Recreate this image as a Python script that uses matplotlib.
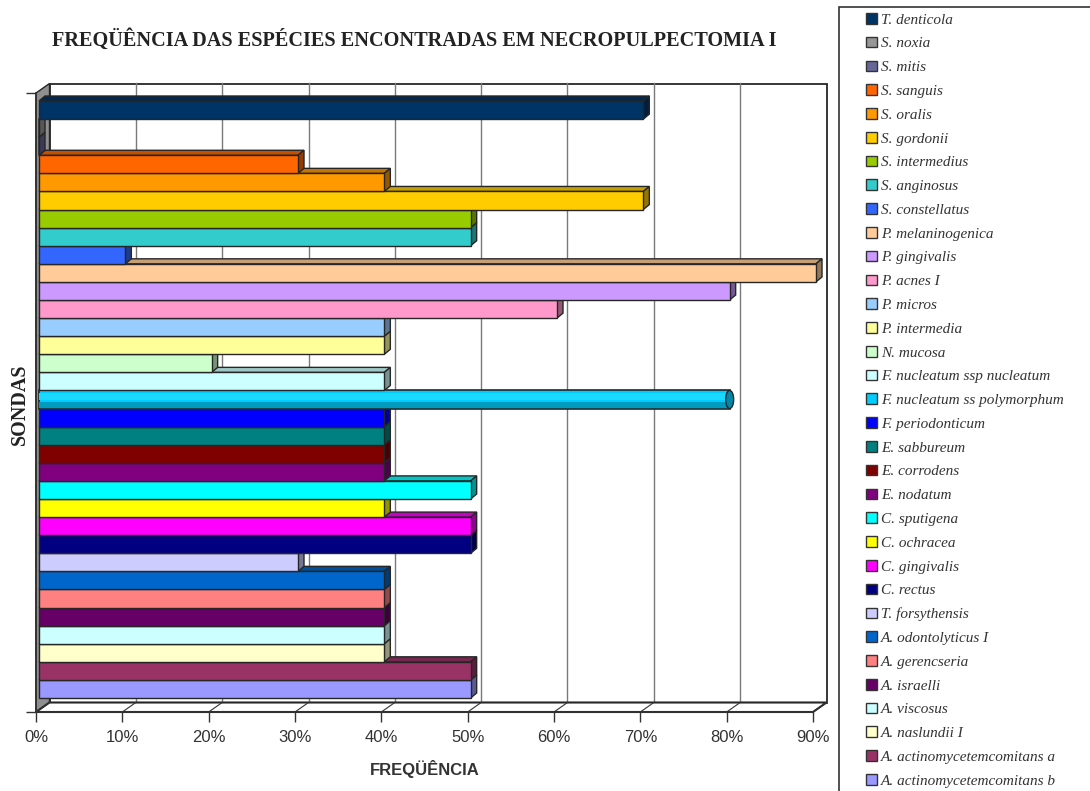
import matplotlib
matplotlib.use('Agg')
import matplotlib.pyplot as plt
from matplotlib.patches import Polygon, Rectangle, Patch, Ellipse
from matplotlib.font_manager import FontProperties
import numpy as np

# ---------------- data (top to bottom, as in the legend) ----------------
species = [
    "T. denticola", "S. noxia", "S. mitis", "S. sanguis", "S. oralis",
    "S. gordonii", "S. intermedius", "S. anginosus", "S. constellatus",
    "P. melaninogenica", "P. gingivalis", "P. acnes I", "P. micros",
    "P. intermedia", "N. mucosa", "F. nucleatum ssp nucleatum",
    "F. nucleatum ss polymorphum", "F. periodonticum", "E. sabbureum",
    "E. corrodens", "E. nodatum", "C. sputigena", "C. ochracea",
    "C. gingivalis", "C. rectus", "T. forsythensis", "A. odontolyticus I",
    "A. gerencseria", "A. israelli", "A. viscosus", "A. naslundii I",
    "A. actinomycetemcomitans a", "A. actinomycetemcomitans b",
]
values = [70, 0, 0, 30, 40, 70, 50, 50, 10, 90, 80, 60, 40, 40, 20, 40,
          80, 40, 40, 40, 40, 50, 40, 50, 50, 30, 40, 40, 40, 40, 40, 50, 50]
colors = [
    "#003366", "#969696", "#666699", "#FF6600", "#FF9900", "#FFCC00",
    "#99CC00", "#33CCCC", "#3366FF", "#FFCC99", "#CC99FF", "#FF99CC",
    "#99CCFF", "#FFFF99", "#CCFFCC", "#CCFFFF", "#00CCFF", "#0000FF",
    "#008080", "#800000", "#800080", "#00FFFF", "#FFFF00", "#FF00FF",
    "#000080", "#CCCCFF", "#0066CC", "#FF8080", "#660066", "#CCFFFF",
    "#FFFFCC", "#993366", "#9999FF",
]
cylinder_species = "F. nucleatum ss polymorphum"
xticks = list(range(0, 100, 10))
xticklabels = [f"{t}%" for t in xticks]
title = "FREQÜÊNCIA DAS ESPÉCIES ENCONTRADAS EM NECROPULPECTOMIA I"
xlabel = "FREQÜÊNCIA"
ylabel = "SONDAS"

# ---------------- layout ----------------
W, H = 1090, 791
fig = plt.figure(figsize=(W / 100, H / 100), dpi=100)
L, R, T, B = 36, 813, 93, 712
ax = fig.add_axes([L / W, 1 - B / H, (R - L) / W, (B - T) / H])

n = len(species)
bar_bot_px, bar_top_px = 698, 101
unit = (bar_bot_px - bar_top_px) / n
bar_off_px = (3.0, 2.3)
ylim0 = -0.5 - (B - (bar_bot_px + bar_off_px[1])) / unit
ylim1 = (n - 0.5) + ((bar_top_px + bar_off_px[1]) - T) / unit
xmax = 90
ax.set_xlim(0, xmax)
ax.set_ylim(ylim0, ylim1)

sx = xmax / (R - L)
sy = (ylim1 - ylim0) / (B - T)
bdx, bdy = 13.5 * sx, 9.5 * sy          # back-plane offset
ox, oy = bar_off_px[0] * sx, bar_off_px[1] * sy
ddx, ddy = 6.0 * sx, 5.0 * sy           # bar depth

edge = "#262626"

# back wall
ax.add_patch(Rectangle((bdx, ylim0 + bdy), xmax, ylim1 - ylim0, fc="white",
                       ec=edge, lw=1.3, clip_on=False, zorder=0))
for g in xticks[1:-1]:
    ax.plot([g + bdx, g + bdx], [ylim0 + bdy, ylim1 + bdy], color="#7a7a7a",
            lw=1.0, clip_on=False, zorder=0.5)
# left wall
ax.add_patch(Polygon([(0, ylim0), (0, ylim1), (bdx, ylim1 + bdy), (bdx, ylim0 + bdy)],
                     closed=True, fc="#8f8f8f", ec=edge, lw=1.0, clip_on=False, zorder=1))
# floor
ax.add_patch(Polygon([(0, ylim0), (xmax, ylim0), (xmax + bdx, ylim0 + bdy), (bdx, ylim0 + bdy)],
                     closed=True, fc="white", ec=edge, lw=1.5, clip_on=False, zorder=1))
for g in xticks:
    ax.plot([g, g + bdx], [ylim0, ylim0 + bdy], color="#333333", lw=0.8,
            clip_on=False, zorder=1.1)


def shade(c, f):
    r, g_, b = matplotlib.colors.to_rgb(c)
    return (r * f, g_ * f, b * f)


# bars, bottom to top
for k in range(n):
    j = n - 1 - k
    v, c, name = values[j], colors[j], species[j]
    y = k + oy
    z = 2 + k * 0.05
    if name == cylinder_species:
        ax.barh(y, v, left=ox, height=1, color=c, edgecolor=edge, linewidth=1.2,
                zorder=z + 0.03, clip_on=False)
        ax.add_patch(Rectangle((ox, y - 0.05), v, 0.4, fc="#1ad8ff", ec="none",
                               zorder=z + 0.031, clip_on=False))
        ax.add_patch(Rectangle((ox, y - 0.45), v, 0.3, fc="#009cc0", ec="none",
                               zorder=z + 0.031, clip_on=False))
        ax.add_patch(Ellipse((ox + v, y), 8 * sx, 1.0, fc="#0088aa", ec=edge, lw=1.0,
                             zorder=z + 0.032, clip_on=False))
        continue
    top = [(ox, y + 0.5), (ox + v, y + 0.5), (ox + v + ddx, y + 0.5 + ddy), (ox + ddx, y + 0.5 + ddy)]
    side = [(ox + v, y - 0.5), (ox + v, y + 0.5), (ox + v + ddx, y + 0.5 + ddy), (ox + v + ddx, y - 0.5 + ddy)]
    ax.add_patch(Polygon(top, closed=True, fc=shade(c, 0.78), ec=edge, lw=1.0, zorder=z,
                         clip_on=False))
    ax.add_patch(Polygon(side, closed=True, fc=shade(c, 0.58), ec=edge, lw=1.0, zorder=z + 0.01,
                         clip_on=False))
    ax.barh(y, v, left=ox, height=1, color=c, edgecolor=edge, linewidth=1.0, zorder=z + 0.02,
            clip_on=False)

# axes styling
for s in ("top", "right"):
    ax.spines[s].set_visible(False)
for s in ("left", "bottom"):
    ax.spines[s].set_color("#333333")
    ax.spines[s].set_linewidth(1.3)
    ax.spines[s].set_zorder(10)
ax.set_facecolor("none")
ax.set_xticks(xticks)
ax.set_xticklabels(xticklabels)
ax.set_yticks([ylim0, ylim1])
ax.set_yticklabels([])
ax.tick_params(axis="x", length=7.2, width=1, color="#333333", pad=6,
               labelsize=12, labelcolor="#333333")
ax.tick_params(axis="y", length=7.2, width=1, color="#333333")
for lab in ax.get_xticklabels():
    lab.set_fontfamily("Liberation Sans")

# texts
fig.text(414 / W, 1 - 40 / H, title, ha="center", va="center",
         fontfamily="Liberation Serif", fontweight="bold", fontsize=14.6, color="#222222")
fig.text(19.5 / W, 1 - 404 / H, ylabel, ha="center", va="center", rotation=90,
         fontfamily="Liberation Serif", fontweight="bold", fontsize=14.5, color="#222222")
fig.text(425 / W, 1 - 769 / H, xlabel, ha="center", va="center",
         fontfamily="Liberation Sans", fontweight="bold", fontsize=12, color="#333333")

# legend
handles = [Patch(facecolor=c, edgecolor="#333333", linewidth=1.0) for c in colors]
leg = fig.legend(handles, species, loc="upper left", bbox_to_anchor=(866 / W, 1 - 13 / H),
                 frameon=False,
                 prop=FontProperties(family="Liberation Serif", style="italic", size=11),
                 handlelength=0.7, handleheight=0.7, handletextpad=0.3,
                 labelspacing=0.66, borderpad=0, borderaxespad=0)
for t in leg.get_texts():
    t.set_color("#333333")
fig.add_artist(Rectangle((839 / W, -0.05), 1, 1 - 7 / H + 0.05, transform=fig.transFigure,
                         fill=False, ec="#333333", lw=1.2))

fig.savefig("out.png", dpi=100)
